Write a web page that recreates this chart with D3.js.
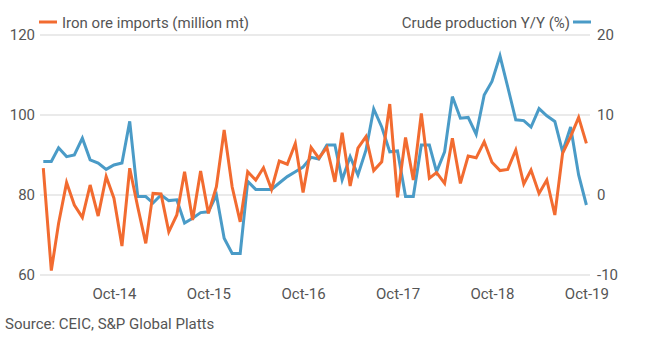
<!DOCTYPE html>
<html>
<head>
<meta charset="utf-8">
<script src="https://cdn.jsdelivr.net/npm/d3@7"></script>
<style>
  html, body { margin: 0; padding: 0; background: #fff; }
  svg text { font-family: Roboto, "Noto Sans", sans-serif; fill: #555; }
</style>
</head>
<body>
<svg id="chart" width="657" height="340"></svg>
<script>
// Monthly data, Jan 2014 – Oct 2019
const months = d3.range(70).map(i => new Date(2014, i, 1));
const ironOreImports = [
  86.7, 61.1, 72.9, 83.1, 77.5, 74.4, 82.5, 74.75, 84.6, 79.2, 67.25, 86.7,
  77, 67.9, 80.4, 80.25, 70.8, 75, 85.8, 73.75, 86, 75.4, 82.1, 96.25,
  82, 73.3, 85.8, 83.75, 86.8, 81.4, 88.5, 87.7, 92.9, 80.6, 91.9, 89.2,
  91.9, 83.3, 95.6, 82.25, 91.7, 94.6, 86.1, 88.3, 102.75, 79.4, 94.4, 83.75,
  100.4, 84.2, 85.6, 82.9, 94.2, 82.9, 89.75, 89.3, 93.3, 88.2, 86.1, 86.4,
  91.25, 82.75, 86.25, 80.4, 83.75, 75, 90.4, 94.6, 99.4, 92.9
];
const crudeProductionYoY = [
  4.2, 4.2, 5.9, 4.8, 5.0, 7.1, 4.4, 4.0, 3.2, 3.75, 4.0, 9.2,
  -0.2, -0.2, -1.0, 0, -0.7, -0.6, -3.5, -2.9, -2.2, -2.1, 0, -5.4,
  -7.3, -7.3, 1.7, 0.7, 0.7, 0.7, 1.5, 2.3, 2.9, 3.5, 4.7, 4.5,
  6.25, 6.25, 1.9, 4.8, 2.5, 5.6, 10.75, 8.5, 5.4, 5.5, -0.2, -0.2,
  6.25, 6.25, 2.9, 5.4, 12.3, 9.6, 9.7, 7.6, 12.5, 14.2, 17.4, 13.5,
  9.4, 9.3, 8.5, 10.8, 9.9, 9.2, 5.4, 8.5, 2.5, -1.25
];
const leftTicks = [60, 80, 100, 120];
const rightTicks = [-10, 0, 10, 20];
const xTickDates = [new Date(2014, 9, 1), new Date(2015, 9, 1), new Date(2016, 9, 1),
                    new Date(2017, 9, 1), new Date(2018, 9, 1), new Date(2019, 9, 1)];
const xTickLabels = ["Oct-14", "Oct-15", "Oct-16", "Oct-17", "Oct-18", "Oct-19"];
const seriesNames = ["Iron ore imports (million mt)", "Crude production Y/Y (%)"];
const sourceText = "Source: CEIC, S&P Global Platts";

const ORANGE = "#F26B30", BLUE = "#4A9BC7", GRID = "#e3e3e3";

const svg = d3.select("#chart");
const plotLeft = 40, plotRight = 590;

const x = d3.scaleTime().domain([months[0], months[months.length - 1]]).range([43.3, 586.4]);
const yL = d3.scaleLinear().domain([60, 120]).range([275, 35]);
const yR = d3.scaleLinear().domain([-10, 20]).range([275, 35]);

// gridlines
svg.append("g").selectAll("line").data(leftTicks).join("line")
  .attr("x1", plotLeft).attr("x2", plotRight)
  .attr("y1", d => yL(d)).attr("y2", d => yL(d))
  .attr("stroke", GRID).attr("stroke-width", 1.5);

// left axis
const leftAxis = d3.axisLeft(yL).tickValues(leftTicks).tickSize(0).tickPadding(0);
const gL = svg.append("g").attr("transform", "translate(35,0)").call(leftAxis);
gL.select(".domain").remove();
gL.selectAll("text").attr("font-size", 15).style("fill", "#555");

// right axis
const rightAxis = d3.axisRight(yR).tickValues(rightTicks).tickSize(0).tickPadding(0)
  .tickFormat(d => d < 0 ? "-" + Math.abs(d) : d);
const gR = svg.append("g").attr("transform", "translate(597,0)").call(rightAxis);
gR.select(".domain").remove();
gR.selectAll("text").attr("font-size", 15).attr("dy", "0.28em").style("fill", "#555");

// bottom axis
const bottomAxis = d3.axisBottom(x).tickValues(xTickDates).tickSize(0).tickPadding(0)
  .tickFormat((d, i) => xTickLabels[i]);
const gB = svg.append("g").attr("transform", "translate(0,288)").call(bottomAxis);
gB.select(".domain").remove();
gB.selectAll("text").attr("font-size", 15).style("fill", "#555");

// lines
const lineL = d3.line().x((d, i) => x(months[i])).y(d => yL(d));
const lineR = d3.line().x((d, i) => x(months[i])).y(d => yR(d));

svg.append("path").datum(crudeProductionYoY)
  .attr("d", lineR).attr("fill", "none").attr("stroke", BLUE)
  .attr("stroke-width", 3).attr("stroke-linejoin", "miter");
svg.append("path").datum(ironOreImports)
  .attr("d", lineL).attr("fill", "none").attr("stroke", ORANGE)
  .attr("stroke-width", 3).attr("stroke-linejoin", "miter");

// legends
svg.append("line").attr("x1", 39).attr("x2", 57).attr("y1", 22).attr("y2", 22)
  .attr("stroke", ORANGE).attr("stroke-width", 3);
svg.append("text").attr("x", 62).attr("y", 28).attr("font-size", 15).text(seriesNames[0]);

svg.append("line").attr("x1", 573).attr("x2", 591).attr("y1", 22).attr("y2", 22)
  .attr("stroke", BLUE).attr("stroke-width", 3);
svg.append("text").attr("x", 570).attr("y", 28).attr("font-size", 15)
  .attr("text-anchor", "end").text(seriesNames[1]);

// source
svg.append("text").attr("x", 5).attr("y", 329).attr("font-size", 15).text(sourceText);
</script>
</body>
</html>
